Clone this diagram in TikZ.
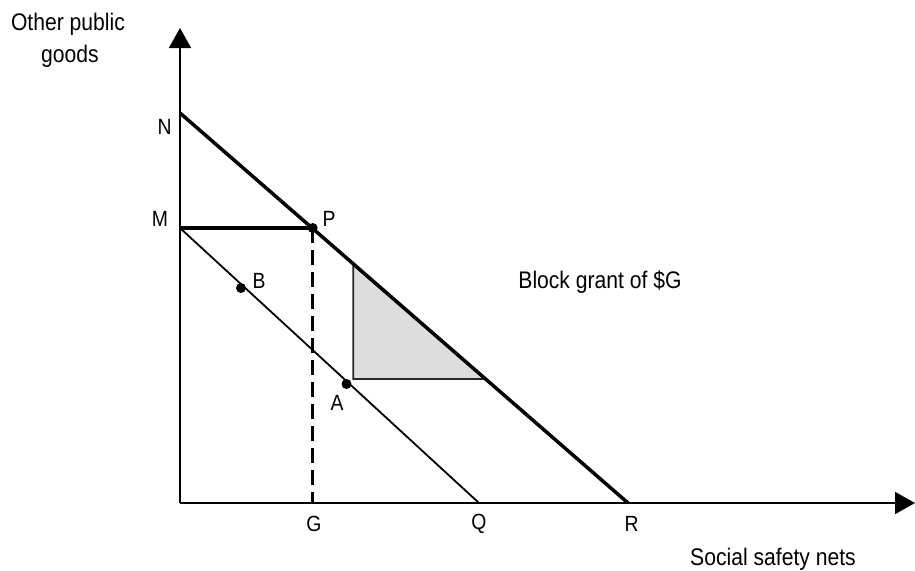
\documentclass[tikz,border=0pt]{standalone}
\usepackage{fontspec}
\setmainfont{Liberation Sans}[FakeStretch=0.88]
\usetikzlibrary{arrows.meta}
\definecolor{shade}{HTML}{DDDDDD}
\tikzset{
  axis/.style={line width=1.8pt, -{Triangle[length=20pt,width=22pt]}},
  budget/.style={line width=3.5pt},
  thinline/.style={line width=1.8pt},
  dashline/.style={line width=3.5pt, dash pattern=on 15pt off 7pt},
  dot/.style={circle, fill=black, inner sep=0pt, minimum size=10pt},
  lbl/.style={inner sep=0pt, font=\fontsize{22}{26}\selectfont},
  txt/.style={inner sep=0pt, anchor=base, font=\fontsize{24}{28}\selectfont}
}
\begin{document}
\begin{tikzpicture}[x=1pt,y=-1pt]
\useasboundingbox (0,0) rectangle (915,570);
\coordinate (O) at (180,503);
\coordinate (Ytop) at (180,28);
\coordinate (Xend) at (915,503);
\coordinate (N) at (180,113);
\coordinate (M) at (180,228);
\coordinate (P) at (312.7,228);
\coordinate (G) at (312.7,503);
\coordinate (Q) at (479,503);
\coordinate (R) at (628,503);
\coordinate (T1) at (353.3,265);
\coordinate (T2) at (353.3,379);
\coordinate (T3) at (485,379);
% shaded triangle
\draw[thinline, fill=shade, draw=black!85] (T1) -- (T2) -- (T3) -- cycle;
% axes
\draw[axis] (O) -- (Ytop);
\draw[axis] (O) -- (Xend);
% lines
\draw[budget] (N) -- (R);
\draw[budget] (M) -- (P);
\draw[thinline] (M) -- (Q);
\draw[dashline] (P) -- (G);
% dots
\node[dot] (Pd) at (P) {};
\node[dot] (Bd) at (241,288) {};
\node[dot] (Ad) at (346.5,384) {};
% point labels
\node[lbl] (Nl) at (164.5,126.5) {N};
\node[lbl] (Ml) at (160,219) {M};
\node[lbl] (Pl) at (329,219) {P};
\node[lbl] (Bl) at (259,281) {B};
\node[lbl] (Al) at (337,403) {A};
\node[lbl] (Gl) at (314,524) {G};
\node[lbl] (Ql) at (479,524) {Q};
\node[lbl] (Rl) at (631.5,524) {R};
% texts
\node[txt] (ylab1) at (68,30) {Other public};
\node[txt] (ylab2) at (70,62) {goods};
\node[txt] (xlab) at (773,565) {Social safety nets};
\node[txt] (grant) at (600,288.3) {Block grant of \$G};
\end{tikzpicture}
\end{document}
